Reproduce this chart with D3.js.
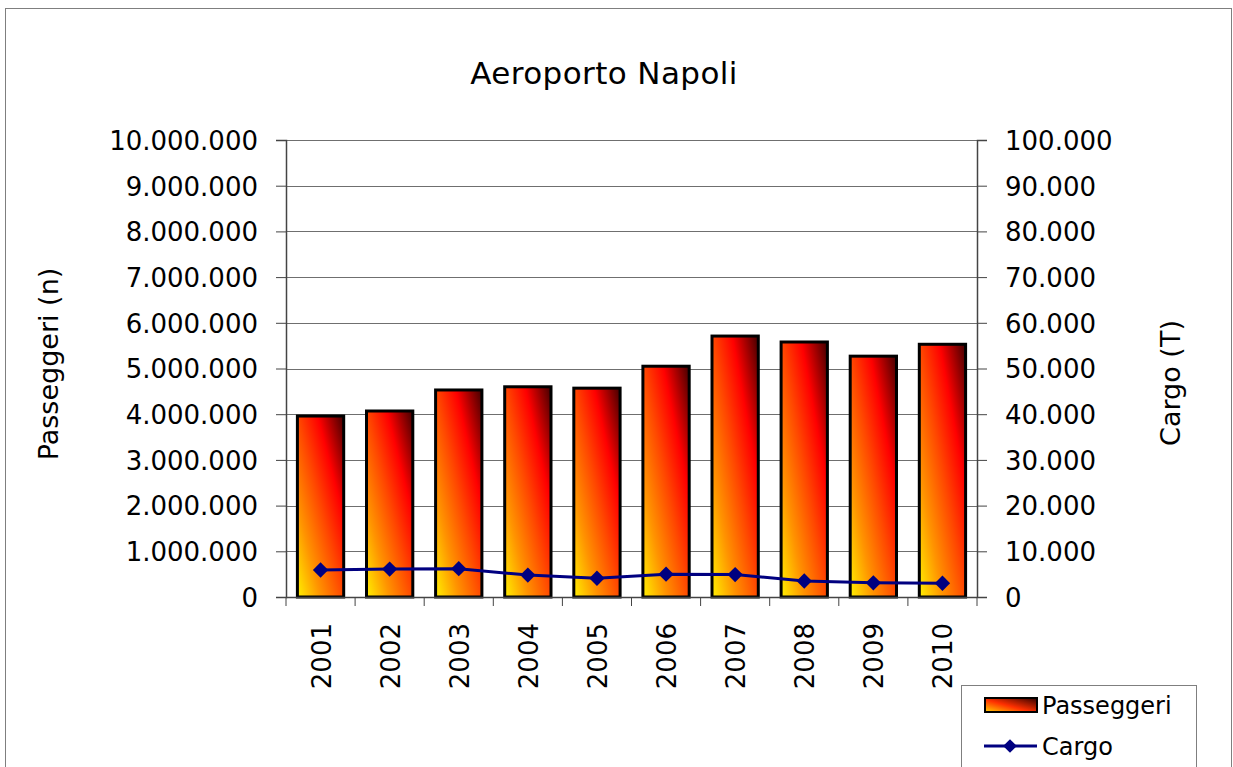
<!DOCTYPE html>
<html>
<head>
<meta charset="utf-8">
<script src="https://cdn.jsdelivr.net/npm/d3@7"></script>
<style>
  body { margin: 0; background: #fff; }
  text { font-family: "DejaVu Sans", Verdana, sans-serif; fill: #000; }
</style>
</head>
<body>
<div id="graph"></div>
<script>
// chart data
var years = ["2001", "2002", "2003", "2004", "2005", "2006", "2007", "2008", "2009", "2010"];
var passeggeri = [3960000, 4070000, 4530000, 4600000, 4570000, 5050000, 5710000, 5580000, 5270000, 5530000];
var cargo = [5900, 6100, 6200, 4800, 4100, 5000, 4900, 3500, 3100, 3000];
var leftTicks = [0, 1000000, 2000000, 3000000, 4000000, 5000000, 6000000, 7000000, 8000000, 9000000, 10000000];
var rightTicks = [0, 10000, 20000, 30000, 40000, 50000, 60000, 70000, 80000, 90000, 100000];

function draw_function() {
    var W = 1233, H = 767;
    var svg = d3.select("#graph").append("svg")
        .attr("width", W).attr("height", H);

    // italian number format: 10.000.000
    var it = d3.formatLocale({decimal: ",", thousands: ".", grouping: [3], currency: ["", "€"]});
    var fmt = it.format(",d");

    // plot area
    var left = 286, right = 977, top = 140, bottom = 597;

    var x = d3.scaleBand().domain(years).range([left, right]).paddingInner(0.33).paddingOuter(0.165);
    var yL = d3.scaleLinear().domain([0, 10000000]).range([bottom, top]);
    var yR = d3.scaleLinear().domain([0, 100000]).range([bottom, top]);

    // gradient for bars: yellow bottom-left to dark red top-right
    var defs = svg.append("defs");
    var grad = defs.append("linearGradient").attr("id", "barGrad")
        .attr("x1", 0).attr("y1", 1).attr("x2", 1).attr("y2", 0);
    grad.append("stop").attr("offset", "0").attr("stop-color", "#fff000");
    grad.append("stop").attr("offset", "0.25").attr("stop-color", "#ff9400");
    grad.append("stop").attr("offset", "0.5").attr("stop-color", "#ff4800");
    grad.append("stop").attr("offset", "0.72").attr("stop-color", "#ff0000");
    grad.append("stop").attr("offset", "1").attr("stop-color", "#420000");
    var lgrad = defs.append("linearGradient").attr("id", "legGrad")
        .attr("x1", 0).attr("y1", 1).attr("x2", 1).attr("y2", 0);
    lgrad.append("stop").attr("offset", "0").attr("stop-color", "#ffd000");
    lgrad.append("stop").attr("offset", "0.45").attr("stop-color", "#ff3000");
    lgrad.append("stop").attr("offset", "1").attr("stop-color", "#300000");

    // outer chart border
    svg.append("rect").attr("x", 5.5).attr("y", 8.5).attr("width", 1226).attr("height", 780)
        .attr("fill", "#fff").attr("stroke", "#7f7f7f").attr("stroke-width", 1);

    // title
    svg.append("text").attr("x", 604).attr("y", 84).attr("text-anchor", "middle")
        .style("font-size", "31px").style("letter-spacing", "0.4px").text("Aeroporto Napoli");

    // gridlines
    svg.append("g").selectAll("line").data(leftTicks.slice(1)).enter().append("line")
        .attr("x1", left).attr("x2", right)
        .attr("y1", function(d) { return Math.round(yL(d)) + 0.5; })
        .attr("y2", function(d) { return Math.round(yL(d)) + 0.5; })
        .attr("stroke", "#6f6f6f").attr("stroke-width", 1);

    // left axis
    var axL = svg.append("g").attr("transform", "translate(" + left + ",0)")
        .call(d3.axisLeft(yL).tickValues(leftTicks).tickFormat(fmt).tickSize(10).tickPadding(18));
    // right axis
    var axR = svg.append("g").attr("transform", "translate(" + right + ",0)")
        .call(d3.axisRight(yR).tickValues(rightTicks).tickFormat(fmt).tickSize(10).tickPadding(18));
    [axL, axR].forEach(function(ax) {
        ax.select(".domain").attr("stroke", "#444").attr("stroke-width", 1.5);
        ax.selectAll(".tick line").attr("stroke", "#444");
        ax.selectAll(".tick text").style("font-size", "26px").attr("dy", "0.36em")
            .style("font-family", "DejaVu Sans, Verdana, sans-serif");
    });

    // bars
    svg.append("g").selectAll("rect").data(passeggeri).enter().append("rect")
        .attr("x", function(d, i) { return x(years[i]); })
        .attr("y", function(d) { return yL(d); })
        .attr("width", x.bandwidth())
        .attr("height", function(d) { return bottom - yL(d); })
        .attr("fill", "url(#barGrad)")
        .attr("stroke", "#000").attr("stroke-width", 3);

    // x axis baseline and ticks between categories
    var step = x.step();
    svg.append("line").attr("x1", left).attr("x2", right).attr("y1", bottom + 0.5).attr("y2", bottom + 0.5)
        .attr("stroke", "#444").attr("stroke-width", 1.5);
    var bounds = d3.range(years.length + 1).map(function(i) { return left + i * step; });
    svg.append("g").selectAll("line").data(bounds).enter().append("line")
        .attr("x1", function(d) { return d; }).attr("x2", function(d) { return d; })
        .attr("y1", bottom).attr("y2", bottom + 9)
        .attr("stroke", "#444");

    // x labels, rotated
    svg.append("g").selectAll("text").data(years).enter().append("text")
        .attr("transform", function(d) { return "translate(" + (x(d) + x.bandwidth() / 2 + 10) + "," + 623 + ") rotate(-90)"; })
        .attr("text-anchor", "end")
        .style("font-size", "26px").text(function(d) { return d; });

    // cargo line
    var line = d3.line()
        .x(function(d, i) { return x(years[i]) + x.bandwidth() / 2; })
        .y(function(d) { return yR(d); });
    svg.append("path").datum(cargo).attr("d", line)
        .attr("fill", "none").attr("stroke", "#000080").attr("stroke-width", 3);
    svg.append("g").selectAll("path").data(cargo).enter().append("path")
        .attr("d", d3.symbol().type(d3.symbolDiamond2).size(150))
        .attr("transform", function(d, i) { return "translate(" + (x(years[i]) + x.bandwidth() / 2) + "," + yR(d) + ")"; })
        .attr("fill", "#000080");

    // axis titles
    svg.append("text").attr("transform", "translate(58,364) rotate(-90)")
        .attr("text-anchor", "middle").style("font-size", "27px").text("Passeggeri (n)");
    svg.append("text").attr("transform", "translate(1180,383) rotate(-90)")
        .attr("text-anchor", "middle").style("font-size", "27px").text("Cargo (T)");

    // legend
    var lg = svg.append("g");
    lg.append("rect").attr("x", 961.5).attr("y", 685.5).attr("width", 235).attr("height", 100)
        .attr("fill", "#fff").attr("stroke", "#7f7f7f");
    lg.append("rect").attr("x", 985).attr("y", 698).attr("width", 52).attr("height", 14)
        .attr("fill", "url(#legGrad)").attr("stroke", "#000").attr("stroke-width", 2);
    lg.append("text").attr("x", 1042).attr("y", 714).style("font-size", "24px").text("Passeggeri");
    lg.append("line").attr("x1", 984).attr("x2", 1037).attr("y1", 746).attr("y2", 746)
        .attr("stroke", "#000080").attr("stroke-width", 3);
    lg.append("path").attr("d", d3.symbol().type(d3.symbolDiamond2).size(120))
        .attr("transform", "translate(1010,746)").attr("fill", "#000080");
    lg.append("text").attr("x", 1042).attr("y", 755).style("font-size", "24px").text("Cargo");
}

window.onload = draw_function;
</script>
</body>
</html>
